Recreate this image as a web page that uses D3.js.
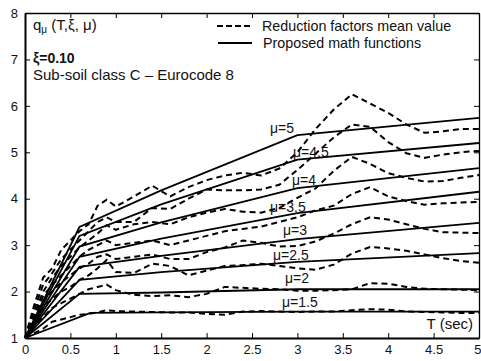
<!DOCTYPE html>
<html><head><meta charset="utf-8">
<script src="https://cdn.jsdelivr.net/npm/d3@7"></script>
<style>body{margin:0;background:#fff} text{font-family:Arial,"Liberation Sans",Helvetica,sans-serif;fill:#111}</style>
</head><body><svg id="c" width="481" height="361"></svg>
<script>
// ---------- data ----------
const periods = [0,0.1,0.2,0.3,0.4,0.5,0.6,0.7,0.8,0.9,1.0,1.2,1.4,1.6,1.8,2.0,2.2,2.4,2.6,2.8,3.0,3.2,3.4,3.6,3.8,4.0,4.2,4.4,4.6,4.8,5.0];
const muValues = [1.5,2,2.5,3,3.5,4,4.5,5];
const muLabels = ["μ=1.5","μ=2","μ=2.5","μ=3","μ=3.5","μ=4","μ=4.5","μ=5"];
const mean15 = [1,1.1,1.2,1.35,1.4,1.45,1.5,1.52,1.55,1.6,1.58,1.57,1.56,1.55,1.55,1.52,1.5,1.57,1.58,1.57,1.56,1.57,1.57,1.6,1.62,1.61,1.57,1.56,1.55,1.54,1.54];
const mean2  = [1,1.25,1.45,1.65,1.75,1.85,1.95,2.05,2.1,2.15,2.03,1.93,1.9,1.92,1.88,1.95,2.1,2.08,2.06,2.05,2.02,2.02,2.03,2.05,2.18,2.17,2.1,2.06,2.05,2.04,2.03];
const mean25 = [1,1.35,1.65,1.85,2.0,2.1,2.25,2.35,2.5,2.68,2.42,2.4,2.6,2.55,2.35,2.45,2.55,2.57,2.6,2.55,2.5,2.47,2.58,2.82,2.96,2.93,2.88,2.8,2.72,2.66,2.62];
const mean3  = [1,1.4,1.8,2.0,2.2,2.35,2.5,2.6,2.75,2.8,2.7,2.75,2.8,2.7,2.7,2.85,2.95,3.1,3.05,2.97,2.98,3.08,3.25,3.45,3.6,3.55,3.45,3.35,3.28,3.27,3.26];
const mean35 = [1,1.45,1.9,2.15,2.35,2.55,2.75,2.9,3.0,3.1,3.0,3.05,3.1,3.0,3.1,3.2,3.3,3.35,3.4,3.5,3.6,3.75,3.85,4.1,4.25,4.05,3.95,3.87,3.9,3.92,3.93];
const mean4  = [1,1.5,2.0,2.3,2.55,2.75,2.95,3.1,3.25,3.43,3.33,3.45,3.5,3.45,3.6,3.7,3.78,3.72,3.7,3.8,4.02,4.22,4.6,4.9,4.75,4.55,4.45,4.37,4.38,4.45,4.51];
const mean45 = [1,1.6,2.15,2.4,2.7,2.9,3.1,3.3,3.5,3.6,3.5,3.5,3.8,3.78,4.0,4.2,4.18,4.18,4.2,4.3,4.62,4.97,5.32,5.6,5.55,5.22,4.98,4.88,4.95,5.0,5.03];
const mean5  = [1,1.7,2.3,2.5,2.9,3.1,3.3,3.45,3.85,3.98,3.83,4.05,4.28,4.05,4.25,4.4,4.5,4.56,4.5,4.65,5.0,5.5,5.92,6.25,6.05,5.85,5.6,5.42,5.45,5.5,5.5];
const meanSeries = [mean15,mean2,mean25,mean3,mean35,mean4,mean45,mean5];
// proposed functions: knots at T = 0, kneeT, 1.5, 3, 5
const kneeT = [0.72,0.6,0.6,0.6,0.6,0.6,0.6,0.6];
const kneeQ = [1.54,1.95,2.25,2.53,2.75,2.97,3.2,3.39];
const fitQ15 = [1.55,1.98,2.42,2.77,3.14,3.49,3.88,4.18];
const fitQ3 = [1.57,2.05,2.64,3.13,3.69,4.23,4.84,5.37];
const fitQ5 = [1.57,2.05,2.83,3.48,4.15,4.66,5.2,5.74];
const xTicks = [0,0.5,1,1.5,2,2.5,3,3.5,4,4.5,5];
const xTickLabels = ["0","0.5","1","1.5","2","2.5","3","3.5","4","4.5","5"];
const yTicks = [1,2,3,4,5,6,7,8];
const yTickLabels = ["1","2","3","4","5","6","7","8"];
const legendLabels = ["Reduction factors mean value","Proposed math functions"];

// ---------- layout ----------
const svg = d3.select("#c");
const x = d3.scaleLinear([0,5],[25,479]);
const y = d3.scaleLinear([1,8],[338,13]);
const line = d3.line().x(d=>x(d[0])).y(d=>y(d[1]));

const plot = svg.append("g");
muValues.forEach((m,i)=>{
  const pts = [[0,1],[kneeT[i],kneeQ[i]],[1.5,fitQ15[i]],[3,fitQ3[i]],[5,fitQ5[i]]];
  plot.append("path").attr("d",line(pts)).attr("fill","none").attr("stroke","#000").attr("stroke-width",1.8);
});
meanSeries.forEach(s=>{
  plot.append("path").attr("d",line(periods.map((t,j)=>[t,s[j]])))
    .attr("fill","none").attr("stroke","#000").attr("stroke-width",2).attr("stroke-dasharray","6,4");
});

function styleAxis(g,w){ g.select(".domain").attr("stroke","#000").attr("stroke-width",w); g.selectAll(".tick line").attr("stroke","#000").attr("stroke-width",1); g.selectAll("text").style("font-size","13px").attr("fill","#111").style("font-family","Arial,'Liberation Sans',sans-serif"); }
svg.append("g").attr("transform","translate(0,338)")
  .call(d3.axisBottom(x).tickValues(xTicks).tickFormat((d,i)=>xTickLabels[i]).tickSize(-5).tickSizeOuter(0).tickPadding(7))
  .call(g=>styleAxis(g,2))
  .call(g=>g.selectAll(".tick text").filter(d=>d===5).attr("text-anchor","end").attr("x",2));
svg.append("g").attr("transform","translate(0,13)")
  .call(d3.axisTop(x).tickValues(xTicks).tickFormat("").tickSize(-5).tickSizeOuter(0))
  .call(g=>styleAxis(g,1.3));
svg.append("g").attr("transform","translate(25,0)")
  .call(d3.axisLeft(y).tickValues(yTicks).tickFormat((d,i)=>yTickLabels[i]).tickSize(-5).tickSizeOuter(0).tickPadding(7))
  .call(g=>styleAxis(g,2));
svg.append("g").attr("transform","translate(479,0)")
  .call(d3.axisRight(y).tickValues(yTicks).tickFormat("").tickSize(-5).tickSizeOuter(0))
  .call(g=>styleAxis(g,1.3));

const t1 = svg.append("text").attr("x",33).attr("y",30).style("font-size","15px");
t1.append("tspan").text("q");
t1.append("tspan").attr("dy",3).style("font-size","10px").text("μ");
t1.append("tspan").attr("dy",-3).text(" (T,ξ, μ)");
svg.append("text").attr("x",33).attr("y",63).style("font-size","14px").style("font-weight","bold").text("ξ=0.10");
svg.append("text").attr("x",33).attr("y",80).style("font-size","15px").text("Sub-soil class C – Eurocode 8");
svg.append("text").attr("x",473).attr("y",329).attr("text-anchor","end").style("font-size","15px").text("T (sec)");

const lg = svg.append("g");
lg.append("line").attr("x1",217).attr("x2",250).attr("y1",26).attr("y2",26).attr("stroke","#000").attr("stroke-width",2).attr("stroke-dasharray","6,3");
lg.append("line").attr("x1",218).attr("x2",252).attr("y1",43).attr("y2",43).attr("stroke","#000").attr("stroke-width",2);
lg.append("text").attr("x",262).attr("y",31).style("font-size","14.3px").text(legendLabels[0]);
lg.append("text").attr("x",263).attr("y",48).style("font-size","14.3px").text(legendLabels[1]);

const labelPx = [[282,307],[285,283],[273,260],[283,235],[270,212],[292,185],[293,157],[270,133]];
muLabels.forEach((l,i)=>{
  svg.append("text").attr("x",labelPx[i][0]).attr("y",labelPx[i][1]).style("font-size","14px").text(l);
});
</script></body></html>
